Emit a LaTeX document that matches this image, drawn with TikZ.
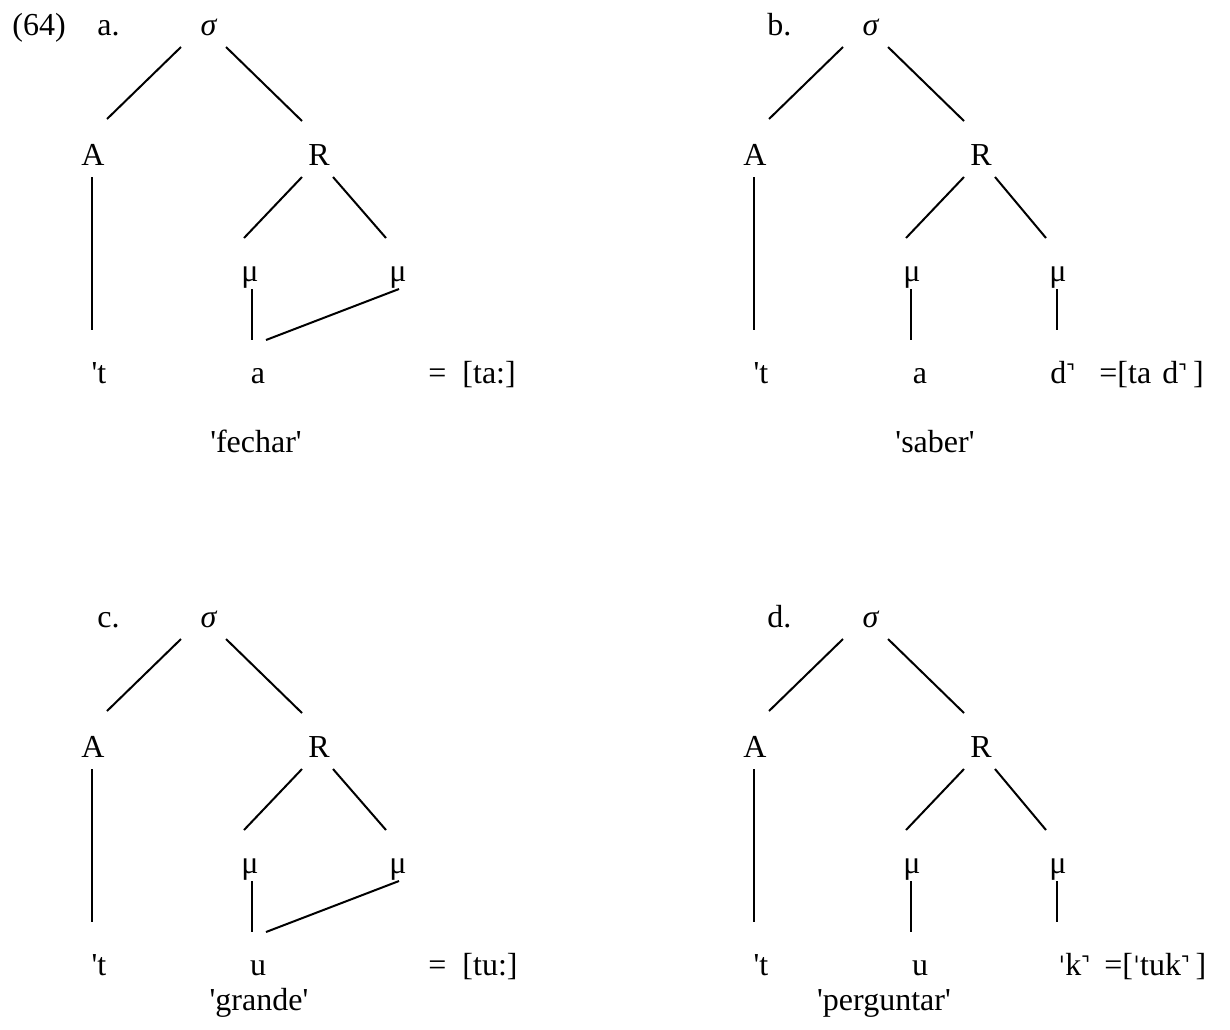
\documentclass[tikz,border=0pt]{standalone}
\usepackage{fontspec}
\newfontfamily\tnr{Liberation Serif}
\newfontfamily\ipa{DejaVu Sans}[Scale=0.8]
\newfontfamily\tone{Noto Sans}[Scale=0.9]
\begin{document}
\begin{tikzpicture}[x=0.5pt,y=-0.5pt,
  every node/.style={inner sep=0pt, anchor=base},
  font=\tnr\fontsize{16pt}{19pt}\selectfont,
  edge/.style={line width=1pt}]
\useasboundingbox (0,0) rectangle (1230,1029);
\node[anchor=base west] (ex) at (12,35) {(64)};

% ---------- panel a ----------
\begin{scope}
\node[anchor=base west] (la) at (97,35) {a.};
\node (sa) at (209,35) {\textit{σ}};
\node (Aa) at (93,165) {A};
\node (Ra) at (319,165) {R};
\node (m1a) at (250,281) {μ};
\node (m2a) at (398,281) {μ};
\node (ta) at (99,383) {'t};
\node (va) at (258,383) {a};
\node[anchor=base west] (ea) at (428,383) {=\hspace{0.5em}[ta:]};
\node (ga) at (256,452) {'fechar'};
\draw[edge] ([shift={(-28,12)}]sa.base) -- ([shift={(14,-46)}]Aa.base);
\draw[edge] ([shift={(17,12)}]sa.base) -- ([shift={(-17,-44)}]Ra.base);
\draw[edge] ([shift={(-1,12)}]Aa.base) -- ([shift={(-7,-53)}]ta.base);
\draw[edge] ([shift={(-17,12)}]Ra.base) -- ([shift={(-6,-43)}]m1a.base);
\draw[edge] ([shift={(14,12)}]Ra.base) -- ([shift={(-12,-43)}]m2a.base);
\draw[edge] ([shift={(2,8)}]m1a.base) -- ([shift={(-6,-43)}]va.base);
\draw[edge] ([shift={(8,-43)}]va.base) -- ([shift={(1,8)}]m2a.base);
\end{scope}

% ---------- panel b ----------
\begin{scope}[shift={(662,0)}]
\node[anchor=base west] (lb) at (105,35) {b.};
\node (sb) at (209,35) {\textit{σ}};
\node (Ab) at (93,165) {A};
\node (Rb) at (319,165) {R};
\node (m1b) at (250,281) {μ};
\node (m2b) at (396,281) {μ};
\node (tb) at (99,383) {'t};
\node (vb) at (258,383) {a};
\node[anchor=base west] (db) at (388,383) {d{\tone ˺}};
\node[anchor=base west] (eb) at (437,383) {=[ta\hspace{0.1em} d{\tone ˺}\hspace{0.2em}]};
\node (gb) at (273,452) {'saber'};
\draw[edge] ([shift={(-28,12)}]sb.base) -- ([shift={(14,-46)}]Ab.base);
\draw[edge] ([shift={(17,12)}]sb.base) -- ([shift={(-17,-44)}]Rb.base);
\draw[edge] ([shift={(-1,12)}]Ab.base) -- ([shift={(-7,-53)}]tb.base);
\draw[edge] ([shift={(-17,12)}]Rb.base) -- ([shift={(-6,-43)}]m1b.base);
\draw[edge] ([shift={(14,12)}]Rb.base) -- ([shift={(-12,-43)}]m2b.base);
\draw[edge] ([shift={(-1,8)}]m1b.base) -- ([shift={(-9,-43)}]vb.base);
\draw[edge] ([shift={(-1,8)}]m2b.base) -- ([shift={(-1,49)}]m2b.base);
\end{scope}

% ---------- panel c ----------
\begin{scope}[shift={(0,592)}]
\node[anchor=base west] (lc) at (97,35) {c.};
\node (sc) at (209,35) {\textit{σ}};
\node (Ac) at (93,165) {A};
\node (Rc) at (319,165) {R};
\node (m1c) at (250,281) {μ};
\node (m2c) at (398,281) {μ};
\node (tc) at (99,383) {'t};
\node (vc) at (258,383) {u};
\node[anchor=base west] (ec) at (428,383) {=\hspace{0.5em}[tu:]};
\node (gc) at (259,418) {'grande'};
\draw[edge] ([shift={(-28,12)}]sc.base) -- ([shift={(14,-46)}]Ac.base);
\draw[edge] ([shift={(17,12)}]sc.base) -- ([shift={(-17,-44)}]Rc.base);
\draw[edge] ([shift={(-1,12)}]Ac.base) -- ([shift={(-7,-53)}]tc.base);
\draw[edge] ([shift={(-17,12)}]Rc.base) -- ([shift={(-6,-43)}]m1c.base);
\draw[edge] ([shift={(14,12)}]Rc.base) -- ([shift={(-12,-43)}]m2c.base);
\draw[edge] ([shift={(2,8)}]m1c.base) -- ([shift={(-6,-43)}]vc.base);
\draw[edge] ([shift={(8,-43)}]vc.base) -- ([shift={(1,8)}]m2c.base);
\end{scope}

% ---------- panel d ----------
\begin{scope}[shift={(662,592)}]
\node[anchor=base west] (ld) at (105,35) {d.};
\node (sd) at (209,35) {\textit{σ}};
\node (Ad) at (93,165) {A};
\node (Rd) at (319,165) {R};
\node (m1d) at (250,281) {μ};
\node (m2d) at (396,281) {μ};
\node (td) at (99,383) {'t};
\node (vd) at (258,383) {u};
\node[anchor=base west] (kd) at (396,383) {{\ipa ˈ}k{\tone ˺}};
\node[anchor=base west] (ed) at (442,383) {=[{\ipa ˈ}tuk{\tone ˺}\hspace{0.2em}]};
\node (gd) at (222,418) {'perguntar'};
\draw[edge] ([shift={(-28,12)}]sd.base) -- ([shift={(14,-46)}]Ad.base);
\draw[edge] ([shift={(17,12)}]sd.base) -- ([shift={(-17,-44)}]Rd.base);
\draw[edge] ([shift={(-1,12)}]Ad.base) -- ([shift={(-7,-53)}]td.base);
\draw[edge] ([shift={(-17,12)}]Rd.base) -- ([shift={(-6,-43)}]m1d.base);
\draw[edge] ([shift={(14,12)}]Rd.base) -- ([shift={(-12,-43)}]m2d.base);
\draw[edge] ([shift={(-1,8)}]m1d.base) -- ([shift={(-9,-43)}]vd.base);
\draw[edge] ([shift={(-1,8)}]m2d.base) -- ([shift={(-1,49)}]m2d.base);
\end{scope}
\end{tikzpicture}
\end{document}
